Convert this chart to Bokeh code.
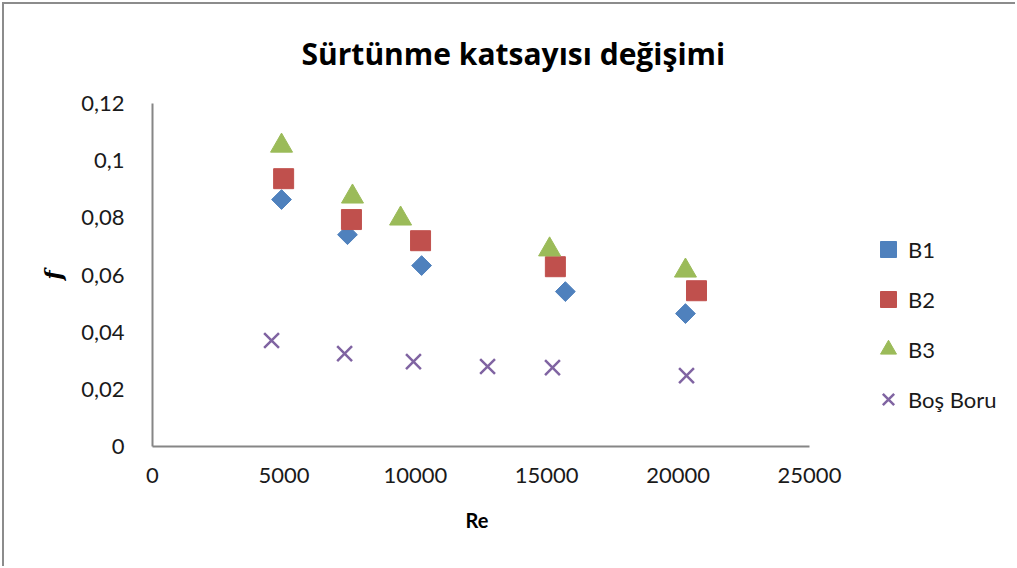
from bokeh.plotting import figure
from bokeh.models import Range1d, FixedTicker, CustomJSTickFormatter, Legend, LegendItem, Title
from bokeh.embed import file_html
from bokeh.resources import INLINE
import numpy as np

# Data
b1_re = [4910, 7420, 10240, 15710, 20280]
b1_f = [0.0864, 0.0741, 0.0633, 0.0542, 0.0465]
b2_re = [4990, 7570, 10200, 15330, 20700]
b2_f = [0.0937, 0.0794, 0.0720, 0.0629, 0.0545]
b3_re = [4910, 7610, 9440, 15110, 20280]
b3_f = [0.1052, 0.0874, 0.0797, 0.0689, 0.0615]
bos_re = [4530, 7310, 9930, 12750, 15220, 20320]
bos_f = [0.0371, 0.0325, 0.0297, 0.0280, 0.0276, 0.0248]

x_ticks = [0, 5000, 10000, 15000, 20000, 25000]
y_ticks = [0, 0.02, 0.04, 0.06, 0.08, 0.10, 0.12]
x_max = 25000
y_max = 0.12

FONT = "Lato"
AXIS_GRAY = "#868686"

# frame spans the legend area too so the legend is not clipped;
# the x axis itself is bounded to 0..25000 (657 px wide)
frame_w = 1013 - 148 - 4
x_end = x_max * frame_w / 657.0

p = figure(width=1013, height=564, output_backend="svg", toolbar_location=None,
           x_range=Range1d(0, x_end), y_range=Range1d(0, y_max),
           min_border_left=148, min_border_right=4, min_border_top=99, min_border_bottom=122)
p.styles = {"margin-top": "2px", "margin-left": "2px",
            "border-top": "2px solid #8c8c8c", "border-left": "2px solid #8c8c8c"}
p.outline_line_color = None
p.grid.grid_line_color = None
p.background_fill_color = "white"
p.border_fill_color = "white"

t = Title(text="Sürtünme katsayısı değişimi", align="left", offset=149,
          text_font="Open Sans", text_font_size="30px", text_font_style="bold",
          vertical_align="top", text_color="black", standoff=55)
p.add_layout(t, "above")

for ax in (p.xaxis[0], p.yaxis[0]):
    ax.axis_line_color = AXIS_GRAY
    ax.axis_line_width = 2
    ax.major_tick_line_color = None
    ax.minor_tick_line_color = None
    ax.major_label_text_font = FONT
    ax.major_label_text_font_size = "22px"
    ax.major_label_text_color = "#1a1a1a"
    ax.axis_label_text_font = FONT
    ax.axis_label_text_font_size = "20px"
    ax.axis_label_text_font_style = "bold"
    ax.axis_label_text_color = "black"

p.xaxis.bounds = (0, x_max)
p.xaxis.ticker = FixedTicker(ticks=x_ticks)
p.yaxis.ticker = FixedTicker(ticks=y_ticks)
p.xaxis.major_label_standoff = 15
p.yaxis.major_label_standoff = 22
p.yaxis.formatter = CustomJSTickFormatter(code="""
var s = tick.toFixed(2);
s = s.replace(/0+$/, '').replace(/\\.$/, '');
return s.replace('.', ',');
""")
p.yaxis.axis_label = "f"
p.yaxis.axis_label_text_font = "DejaVu Serif"
p.yaxis.axis_label_text_font_size = "22px"
p.yaxis.axis_label_text_font_style = "bold italic"
p.yaxis.axis_label_standoff = 12

# x-axis title, placed under the 0..25000 axis span
xt = Title(text="Re", align="left", offset=313,
           text_font=FONT, text_font_size="20px", text_font_style="bold",
           text_color="black", standoff=40)
p.add_layout(xt, "below")

r1 = p.scatter(b1_re, b1_f, marker="square", angle=np.pi / 4, size=14,
               fill_color="#4F81BD", line_color="#4F81BD")
r2 = p.scatter(b2_re, b2_f, marker="square", size=20,
               fill_color="#C0504D", line_color="#C0504D")
r3 = p.scatter(b3_re, b3_f, marker="triangle", size=22,
               fill_color="#9BBB59", line_color="#9BBB59")
r4 = p.scatter(bos_re, bos_f, marker="x", size=21, line_width=2.5,
               line_color="#8064A2")

legend = Legend(items=[LegendItem(label="B1", renderers=[r1]),
                       LegendItem(label="B2", renderers=[r2]),
                       LegendItem(label="B3", renderers=[r3]),
                       LegendItem(label="Boş Boru", renderers=[r4])],
                location=(716, 27), padding=0, spacing=10, margin=0,
                glyph_width=40, glyph_height=40, label_height=40,
                label_standoff=0, border_line_color=None,
                background_fill_alpha=0,
                label_text_font=FONT, label_text_font_size="22px",
                label_text_color="#1a1a1a")
p.add_layout(legend, "center")

open("out.html", "w").write(file_html(p, INLINE))
